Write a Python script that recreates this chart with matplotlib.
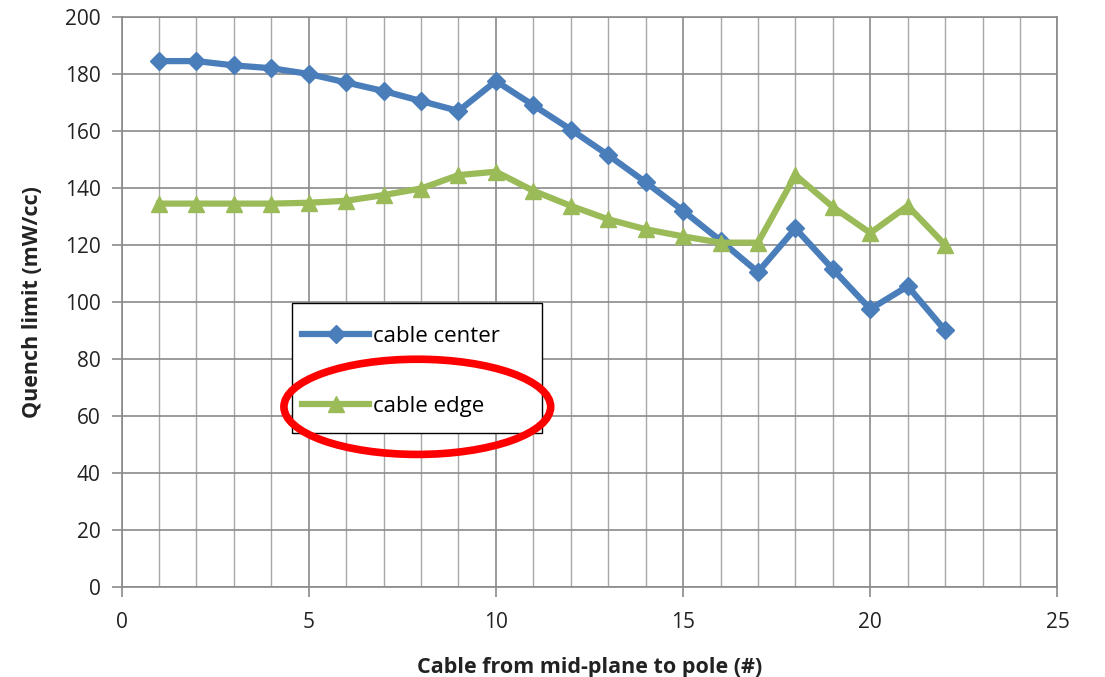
import numpy as np
import matplotlib.pyplot as plt
from matplotlib.patches import Ellipse, Rectangle
from matplotlib.ticker import MultipleLocator

plt.rcParams['font.family'] = ['Open Sans', 'DejaVu Sans']

cable = list(range(1, 23))
center = [184.5, 184.5, 183, 182, 180, 177, 174, 170.5, 167, 177.5, 169, 160.5,
          151.5, 142, 132, 121.5, 110.5, 125.8, 111.5, 97.5, 105.5, 90]
edge = [134.5, 134.5, 134.5, 134.5, 134.8, 135.5, 137.5, 139.8, 144.5, 145.7, 139,
        133.7, 129, 125.5, 123, 120.8, 120.8, 144.5, 133.3, 124.2, 133.7, 120]

fig = plt.figure(figsize=(11.05, 6.77), dpi=100)
ax = fig.add_axes([0.110, 0.133, 0.847, 0.842])

ax.plot(cable, center, color='#4a7ebb', lw=4.5, marker='D', ms=9, label='cable center')
ax.plot(cable, edge, color='#9bbb59', lw=4.5, marker='^', ms=12, label='cable edge')

ax.set_xlim(0, 25)
ax.set_ylim(0, 200)
ax.xaxis.set_major_locator(MultipleLocator(5))
ax.xaxis.set_minor_locator(MultipleLocator(1))
ax.yaxis.set_major_locator(MultipleLocator(20))
ax.grid(which='major', color='#8a8a8a', lw=1.2)
ax.grid(which='minor', axis='x', color='#a8a8a8', lw=1.0)
ax.set_axisbelow(True)
for s in ax.spines.values():
    s.set_color('#8a8a8a')
    s.set_linewidth(1.2)
ax.tick_params(which='major', length=7, width=1.2, color='#8a8a8a', labelsize=15,
               labelcolor='#222222', pad=8)
ax.tick_params(axis='x', which='major', pad=11)
ax.tick_params(which='minor', length=0)

ax.set_xlabel('Cable from mid-plane to pole (#)', fontsize=15.5, fontweight='bold',
              labelpad=17, color='#222222')
ax.set_ylabel('Quench limit (mW/cc)', fontsize=15.5, fontweight='bold', labelpad=16,
              color='#222222')

# legend box drawn separately so its size matches
box = Rectangle((0.1816, 0.270), 0.268, 0.228, transform=ax.transAxes,
                facecolor='white', edgecolor='black', lw=1.0, zorder=5)
ax.add_patch(box)
leg = ax.legend(loc='center left', bbox_to_anchor=(0.193, 0.378), fontsize=16,
                frameon=False, borderpad=0, borderaxespad=0,
                labelspacing=2.2, handlelength=3.0, handletextpad=0.2)
leg.set_zorder(6)

ell = Ellipse((0.316, 0.316), 0.285, 0.167, transform=ax.transAxes,
              fill=False, edgecolor='#ff0000', lw=5.5, zorder=10)
ax.add_patch(ell)

fig.savefig('out.png', dpi=100)
